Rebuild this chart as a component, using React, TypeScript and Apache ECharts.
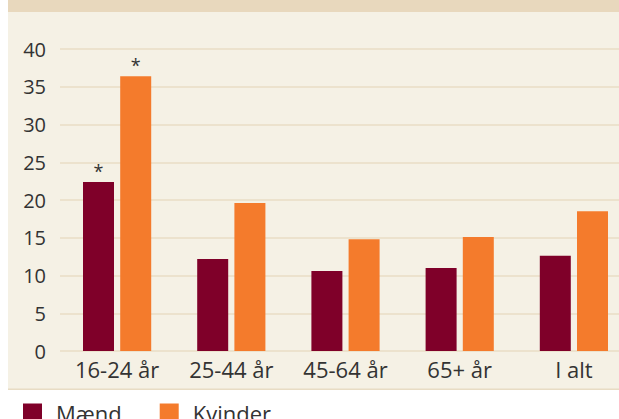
import React, { useEffect, useRef } from "react";
import * as echarts from "echarts";

const categories = ["16-24 år", "25-44 år", "45-64 år", "65+ år", "I alt"];
const maend = [22.4, 12.2, 10.6, 11.0, 12.6];
const kvinder = [36.4, 19.6, 14.8, 15.1, 18.5];
const maendMarks = ["*", "", "", "", ""];
const kvinderMarks = ["*", "", "", "", ""];
const yTicks = [0, 5, 10, 15, 20, 25, 30, 35, 40];

const FONT = "'Open Sans', 'Noto Sans', sans-serif";
const TEXT = "#333333";
const CW = 640;

export default function App() {
  const ref = useRef<HTMLDivElement>(null);
  useEffect(() => {
    if (!ref.current) return;
    const chart = echarts.init(ref.current, undefined, { renderer: "svg" });
    const mkLabel = (marks: string[]) => ({
      show: true,
      position: "top",
      distance: 2,
      color: TEXT,
      fontFamily: FONT,
      fontSize: 18,
      formatter: (p: any) => marks[p.dataIndex],
    });
    chart.setOption({
      animation: false,
      textStyle: { fontFamily: FONT },
      graphic: [
        { type: "rect", z: -10, shape: { x: 8, y: 0, width: CW, height: 390 }, style: { fill: "#f5f1e5" } },
        { type: "rect", z: -9, shape: { x: 8, y: 0, width: CW, height: 12 }, style: { fill: "#e8d8bd" } },
        { type: "line", z: -9, shape: { x1: 8, y1: 389.2, x2: CW, y2: 389.2 }, style: { stroke: "#e8dcc4", lineWidth: 1.5 } },
      ],
      grid: { left: 60, top: 49, width: 571, height: 302, containLabel: false },
      legend: {
        left: 23,
        top: 400,
        padding: 0,
        itemWidth: 19,
        itemHeight: 19,
        itemGap: 38,
        icon: "rect",
        textStyle: { fontSize: 22, lineHeight: 19, color: TEXT, fontFamily: FONT, padding: [7, 0, 0, 9] },
        data: ["Mænd", "Kvinder"],
      },
      xAxis: {
        type: "category",
        data: categories,
        axisLine: { show: false },
        axisTick: { show: false },
        axisLabel: { fontSize: 22, color: TEXT, fontFamily: FONT, margin: 7 },
      },
      yAxis: {
        type: "value",
        min: 0,
        max: yTicks[yTicks.length - 1],
        interval: 5,
        axisLine: { show: false },
        axisTick: { show: false },
        axisLabel: { fontSize: 20, color: TEXT, fontFamily: FONT, margin: 14 },
        splitLine: { lineStyle: { color: "#e8dcc4", width: 1.5 } },
      },
      series: [
        {
          name: "Mænd",
          type: "bar",
          data: maend,
          barWidth: 31,
          barGap: "20%",
          itemStyle: { color: "#7f0029" },
          label: mkLabel(maendMarks),
        },
        {
          name: "Kvinder",
          type: "bar",
          data: kvinder,
          barWidth: 31,
          itemStyle: { color: "#f47b2c" },
          label: mkLabel(kvinderMarks),
        },
      ],
    });
    return () => chart.dispose();
  }, []);
  return (
    <div style={{ width: 619, height: 419, position: "absolute", left: 0, top: 0, overflow: "hidden" }}>
      <div ref={ref} style={{ width: CW, height: 419 }} />
    </div>
  );
}
